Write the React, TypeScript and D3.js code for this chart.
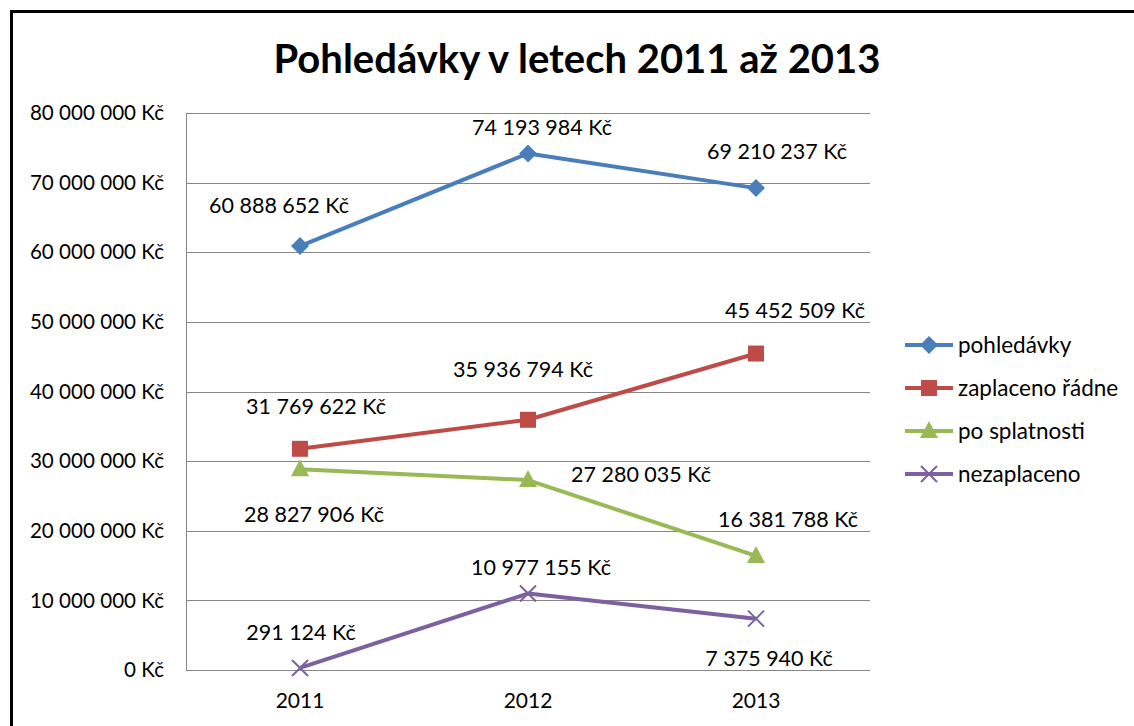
import * as d3 from "d3";

const years = ["2011", "2012", "2013"];
const seriesNames = ["pohledávky", "zaplaceno řádne", "po splatnosti", "nezaplaceno"];
const pohledavky = [60888652, 74193984, 69210237];
const zaplaceno = [31769622, 35936794, 45452509];
const poSplatnosti = [28827906, 27280035, 16381788];
const nezaplaceno = [291124, 10977155, 7375940];
const yTicks = [0, 10e6, 20e6, 30e6, 40e6, 50e6, 60e6, 70e6, 80e6];

// layout only: where the data labels sit relative to their points
const labelOffsets = [
  [[-21, -41], [14, -26], [21, -37]],
  [[16, -42], [-5, -50], [39, -43]],
  [[14, 45], [113, -6], [32, -36]],
  [[1, -35], [13, -26], [13, 40]],
];

const colors = ["#4a7ebb", "#be4b48", "#98b954", "#7d60a0"];
const markers = ["diamond", "square", "triangle", "cross"];
const font = "Lato, 'Open Sans', sans-serif";

const fmt = (v: number) => d3.format(",")(v).replace(/,/g, " ") + " Kč";

function Marker({ type, x, y, color }: { type: string; x: number; y: number; color: string }) {
  if (type === "diamond") {
    return <path d={`M${x},${y - 9}L${x + 9},${y}L${x},${y + 9}L${x - 9},${y}Z`} fill={color} />;
  }
  if (type === "square") {
    return <rect x={x - 8} y={y - 8} width={16} height={16} fill={color} />;
  }
  if (type === "triangle") {
    return <path d={`M${x},${y - 10}L${x + 9},${y + 7}L${x - 9},${y + 7}Z`} fill={color} />;
  }
  return (
    <path
      d={`M${x - 8},${y - 8}L${x + 8},${y + 8}M${x - 8},${y + 8}L${x + 8},${y - 8}`}
      stroke={color}
      strokeWidth={2}
      fill="none"
    />
  );
}

export default function App() {
  const width = 1134;
  const height = 726;
  const left = 186;
  const right = 870;
  const top = 113;
  const bottom = 670;

  const x = d3.scaleBand(years, [left, right]);
  const y = d3.scaleLinear([0, 80e6], [bottom, top]);
  const cx = (yr: string) => (x(yr) ?? 0) + x.bandwidth() / 2;
  const line = d3.line<number>((d, i) => cx(years[i]), (d) => y(d));

  const data = [pohledavky, zaplaceno, poSplatnosti, nezaplaceno];

  return (
    <svg
      width={width}
      height={height}
      style={{ position: "absolute", left: 0, top: 0, background: "#fff" }}
      fontFamily={font}
    >
      <rect x={11.5} y={11.5} width={1200} height={800} fill="none" stroke="#000" strokeWidth={3} />
      <text x={577} y={73} textAnchor="middle" fontSize={40} fontWeight="bold" fill="#000">
        Pohledávky v letech 2011 až 2013
      </text>

      {yTicks.map((t) => (
        <g key={t}>
          <line x1={left} x2={right} y1={Math.round(y(t)) + 0.5} y2={Math.round(y(t)) + 0.5} stroke="#878787" />
          <text x={164} y={y(t)} dy="0.35em" textAnchor="end" fontSize={20.6} fill="#000">
            {fmt(t)}
          </text>
        </g>
      ))}
      <line x1={left + 0.5} x2={left + 0.5} y1={top} y2={bottom} stroke="#878787" />

      {years.map((yr) => (
        <text key={yr} x={cx(yr)} y={701} dy="0.35em" textAnchor="middle" fontSize={21} fill="#000">
          {yr}
        </text>
      ))}

      {data.map((vals, si) => (
        <g key={si}>
          <path d={line(vals) ?? ""} fill="none" stroke={colors[si]} strokeWidth={4} strokeLinejoin="round" />
          {vals.map((v, i) => (
            <Marker key={i} type={markers[si]} x={cx(years[i])} y={y(v)} color={colors[si]} />
          ))}
          {vals.map((v, i) => (
            <text
              key={"l" + i}
              x={cx(years[i]) + labelOffsets[si][i][0]}
              y={y(v) + labelOffsets[si][i][1]}
              dy="0.35em"
              textAnchor="middle"
              fontSize={21.5}
              fill="#000"
            >
              {fmt(v)}
            </text>
          ))}
        </g>
      ))}

      {seriesNames.map((name, si) => {
        const ly = 345 + si * 43;
        return (
          <g key={name}>
            <line x1={905} x2={953} y1={ly} y2={ly} stroke={colors[si]} strokeWidth={4} />
            <Marker type={markers[si]} x={929} y={ly} color={colors[si]} />
            <text x={958} y={ly} dy="0.35em" fontSize={22.5} fill="#000">
              {name}
            </text>
          </g>
        );
      })}
    </svg>
  );
}
